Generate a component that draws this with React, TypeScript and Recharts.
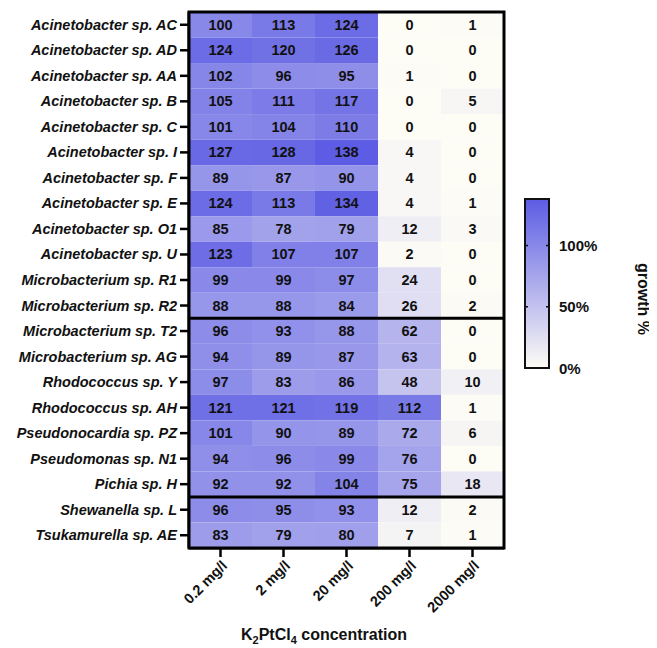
import { ScatterChart, Scatter, XAxis, YAxis, Customized } from "recharts";

const strains = [
  "Acinetobacter sp. AC",
  "Acinetobacter sp. AD",
  "Acinetobacter sp. AA",
  "Acinetobacter sp. B",
  "Acinetobacter sp. C",
  "Acinetobacter sp. I",
  "Acinetobacter sp. F",
  "Acinetobacter sp. E",
  "Acinetobacter sp. O1",
  "Acinetobacter sp. U",
  "Microbacterium sp. R1",
  "Microbacterium sp. R2",
  "Microbacterium sp. T2",
  "Microbacterium sp. AG",
  "Rhodococcus sp. Y",
  "Rhodococcus sp. AH",
  "Pseudonocardia sp. PZ",
  "Pseudomonas sp. N1",
  "Pichia sp. H",
  "Shewanella sp. L",
  "Tsukamurella sp. AE",
];

const concentrations = ["0.2 mg/l", "2 mg/l", "20 mg/l", "200 mg/l", "2000 mg/l"];

// growth % per concentration, same order as strains
const growth02 = [100, 124, 102, 105, 101, 127, 89, 124, 85, 123, 99, 88, 96, 94, 97, 121, 101, 94, 92, 96, 83];
const growth2 = [113, 120, 96, 111, 104, 128, 87, 113, 78, 107, 99, 88, 93, 89, 83, 121, 90, 96, 92, 95, 79];
const growth20 = [124, 126, 95, 117, 110, 138, 90, 134, 79, 107, 97, 84, 88, 87, 86, 119, 89, 99, 104, 93, 80];
const growth200 = [0, 0, 1, 0, 0, 4, 4, 4, 12, 2, 24, 26, 62, 63, 48, 112, 72, 76, 75, 12, 7];
const growth2000 = [1, 0, 0, 5, 0, 0, 0, 1, 3, 0, 0, 2, 0, 0, 10, 1, 6, 0, 18, 2, 1];

const groupStarts = ["Microbacterium sp. T2", "Shewanella sp. L"];
const legendTicks = [0, 50, 100];

const columns = [growth02, growth2, growth20, growth200, growth2000];

const cells = strains.flatMap((strain, i) =>
  concentrations.map((conc, j) => ({ strain, conc, value: columns[j][i] }))
);
const maxValue = Math.max(...cells.map((c) => c.value));

// frame + group separators, anchored on the first column so they go through the scales
const overlays = [
  { strain: strains[0], conc: concentrations[0], kind: "frame" },
  ...groupStarts.map((s) => ({ strain: s, conc: concentrations[0], kind: "sep" })),
];

const FONT = "'Liberation Sans', Arial, sans-serif";
const W = 649;
const H = 640;
const PLOT = { left: 181, top: 4, width: 315, height: 536 };
const CELL_W = PLOT.width / concentrations.length;
const CELL_H = PLOT.height / strains.length;

const LOW = [253, 252, 245];
const HIGH = [92, 92, 228];

function colorFor(v: number) {
  const t = Math.max(0, Math.min(1, v / maxValue));
  const c = LOW.map((l, k) => Math.round(l + (HIGH[k] - l) * t));
  return `rgb(${c[0]},${c[1]},${c[2]})`;
}

function HeatCell(props: any) {
  const { cx, cy, payload } = props;
  if (cx == null || cy == null) return null;
  return (
    <g>
      <rect
        x={cx - CELL_W / 2}
        y={cy - CELL_H / 2}
        width={CELL_W}
        height={CELL_H}
        fill={colorFor(payload.value)}
      />
      <text
        x={cx}
        y={cy}
        textAnchor="middle"
        dominantBaseline="central"
        fontFamily={FONT}
        fontWeight="bold"
        fontSize={14.5}
        fill="#111"
      >
        {payload.value}
      </text>
    </g>
  );
}

function Overlay(props: any) {
  const { cx, cy, payload } = props;
  if (cx == null || cy == null) return null;
  const x0 = cx - CELL_W / 2;
  const y0 = cy - CELL_H / 2;
  if (payload.kind === "frame") {
    return (
      <rect x={x0} y={y0} width={PLOT.width} height={PLOT.height} fill="none" stroke="#000" strokeWidth={3} />
    );
  }
  return <line x1={x0} x2={x0 + PLOT.width} y1={y0} y2={y0} stroke="#000" strokeWidth={3} />;
}

function StrainTick(props: any) {
  const { x, y, payload } = props;
  return (
    <text
      x={x}
      y={y}
      textAnchor="end"
      dominantBaseline="central"
      fontFamily={FONT}
      fontWeight="bold"
      fontStyle="italic"
      fontSize={14.5}
      fill="#111"
    >
      {payload.value}
    </text>
  );
}

function ConcTick(props: any) {
  const { x, y, payload } = props;
  return (
    <text
      x={x + 4}
      y={y + 4}
      transform={`rotate(-45, ${x + 4}, ${y + 4})`}
      textAnchor="end"
      dominantBaseline="central"
      fontFamily={FONT}
      fontWeight="bold"
      fontSize={14.5}
      fill="#111"
    >
      {payload.value}
    </text>
  );
}

function Extras() {
  const barX = 517;
  const barY = 191;
  const barW = 24;
  const barH = 169;
  return (
    <g>
      <defs>
        <linearGradient id="growthGrad" x1="0" y1="1" x2="0" y2="0">
          <stop offset="0%" stopColor={colorFor(0)} />
          <stop offset="100%" stopColor={colorFor(maxValue)} />
        </linearGradient>
      </defs>
      <rect x={barX} y={barY} width={barW} height={barH} fill="url(#growthGrad)" stroke="#111" strokeWidth={2} />
      {legendTicks.map((t) => {
        const ty = barY + barH - (t / maxValue) * barH;
        return (
          <g key={t}>
            {t > 0 && (
              <>
                <line x1={barX} x2={barX + 3} y1={ty} y2={ty} stroke="#111" strokeWidth={1.5} />
                <line x1={barX + barW - 3} x2={barX + barW} y1={ty} y2={ty} stroke="#111" strokeWidth={1.5} />
              </>
            )}
            <text
              x={barX + barW + 10}
              y={ty}
              dominantBaseline="central"
              fontFamily={FONT}
              fontWeight="bold"
              fontSize={15}
              fill="#111"
            >
              {t}%
            </text>
          </g>
        );
      })}
      <text
        x={635}
        y={291}
        transform="rotate(90, 635, 291)"
        textAnchor="middle"
        dominantBaseline="central"
        fontFamily={FONT}
        fontWeight="bold"
        fontSize={16}
        fill="#111"
      >
        growth %
      </text>
      <text
        x={316}
        y={632}
        textAnchor="middle"
        fontFamily={FONT}
        fontWeight="bold"
        fontSize={16}
        fill="#111"
      >
        K<tspan fontSize={11} dy={4}>2</tspan>
        <tspan dy={-4}>PtCl</tspan>
        <tspan fontSize={11} dy={4}>4</tspan>
        <tspan dy={-4}> concentration</tspan>
      </text>
    </g>
  );
}

export default function App() {
  return (
    <ScatterChart width={W} height={H} margin={{ top: 4, right: 153, bottom: 0, left: 0 }}>
      <XAxis
        type="category"
        dataKey="conc"
        allowDuplicatedCategory={false}
        height={100}
        tickSize={9}
        tickMargin={2}
        tick={<ConcTick />}
        axisLine={{ stroke: "#000", strokeWidth: 3 }}
        tickLine={{ stroke: "#000", strokeWidth: 2.5 }}
        interval={0}
      />
      <YAxis
        type="category"
        dataKey="strain"
        allowDuplicatedCategory={false}
        width={181}
        tickSize={9}
        tickMargin={3}
        tick={<StrainTick />}
        axisLine={{ stroke: "#000", strokeWidth: 3 }}
        tickLine={{ stroke: "#000", strokeWidth: 2.5 }}
        interval={0}
        reversed
      />
      <Scatter data={cells} shape={<HeatCell />} isAnimationActive={false} />
      <Scatter data={overlays} shape={<Overlay />} isAnimationActive={false} />
      <Customized component={Extras} />
    </ScatterChart>
  );
}
